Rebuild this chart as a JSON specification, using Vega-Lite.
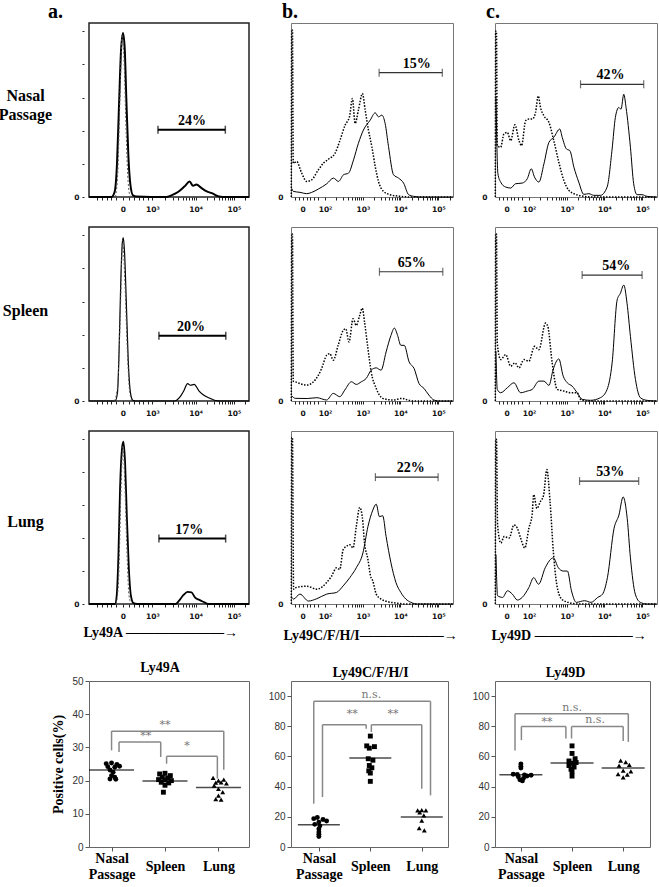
{
"$schema": "https://vega.github.io/schema/vega-lite/v6.json",
"autosize": {"type": "none"},
"padding": {"left": 89, "top": 23, "right": 570, "bottom": 864},
"background": "white",
"datasets": {
"a1s": [{"x":0,"y":0},{"x":14,"y":0},{"x":16,"y":3},{"x":17.5,"y":20},{"x":18.75,"y":55},{"x":20,"y":88},{"x":21.25,"y":99},{"x":22.3,"y":90},{"x":23.3,"y":60},{"x":24.6,"y":25},{"x":25.8,"y":8},{"x":27.5,"y":1},{"x":29.6,"y":0.3},{"x":48.3,"y":0},{"x":51.5,"y":1},{"x":55.6,"y":3},{"x":59.8,"y":6.5},{"x":62.9,"y":9.3},{"x":65,"y":6.8},{"x":67.1,"y":7.6},{"x":70.2,"y":5.5},{"x":73.3,"y":3.5},{"x":77.5,"y":2},{"x":80.6,"y":0.5},{"x":83.75,"y":0},{"x":100,"y":0}],
"a1d": [{"x":16.5,"y":0},{"x":18,"y":15},{"x":19.5,"y":65},{"x":20.8,"y":98},{"x":22,"y":80},{"x":23.2,"y":40},{"x":24.4,"y":10},{"x":25.6,"y":1},{"x":27,"y":0}],
"a2s": [{"x":0,"y":0},{"x":16.3,"y":0},{"x":17.8,"y":5},{"x":18.8,"y":30},{"x":19.8,"y":70},{"x":20.8,"y":95},{"x":21.4,"y":98.6},{"x":22.2,"y":90},{"x":23.3,"y":60},{"x":24.5,"y":25},{"x":25.9,"y":5},{"x":27.3,"y":0.5},{"x":29,"y":0},{"x":53.5,"y":0},{"x":56.5,"y":2},{"x":59.2,"y":6},{"x":61.6,"y":10.5},{"x":63.3,"y":9.5},{"x":65.7,"y":10},{"x":68.8,"y":6},{"x":71.8,"y":3.5},{"x":75.9,"y":1.5},{"x":79,"y":0.3},{"x":82,"y":0},{"x":100,"y":0}],
"a2d": [{"x":16,"y":0},{"x":18,"y":10},{"x":19.5,"y":50},{"x":21,"y":97},{"x":22.5,"y":70},{"x":24,"y":30},{"x":25.5,"y":5},{"x":27,"y":0}],
"a3s": [{"x":0,"y":0},{"x":16.2,"y":0},{"x":17.3,"y":5},{"x":18.4,"y":30},{"x":19.4,"y":70},{"x":20.7,"y":95},{"x":21.5,"y":98.6},{"x":22.6,"y":85},{"x":23.6,"y":55},{"x":24.9,"y":22},{"x":26.2,"y":5},{"x":27.8,"y":0.5},{"x":30,"y":0},{"x":54.2,"y":0},{"x":56.3,"y":2},{"x":59.1,"y":5.5},{"x":61.6,"y":7.3},{"x":64.1,"y":7},{"x":66.2,"y":4},{"x":69,"y":2.5},{"x":72.2,"y":1},{"x":74.3,"y":0},{"x":100,"y":0}],
"a3d": [{"x":17,"y":0},{"x":18.5,"y":15},{"x":20,"y":70},{"x":21.2,"y":96},{"x":22.5,"y":70},{"x":23.8,"y":30},{"x":25,"y":5},{"x":26.5,"y":0}],
"b1d": [{"x":0.2,"y":0},{"x":0.4,"y":101},{"x":0.9,"y":101},{"x":1.4,"y":20.4},{"x":3.5,"y":21.4},{"x":6.6,"y":14.4},{"x":9.7,"y":9.4},{"x":12.8,"y":10.4},{"x":16.9,"y":16.4},{"x":20,"y":20.4},{"x":23.1,"y":22.8},{"x":27.2,"y":26.4},{"x":30.3,"y":34.4},{"x":33.4,"y":43.4},{"x":36.1,"y":48.4},{"x":37.9,"y":59.4},{"x":39.6,"y":44.4},{"x":41.6,"y":52.4},{"x":44.1,"y":62.4},{"x":45.8,"y":52.4},{"x":47.8,"y":40.4},{"x":49.9,"y":30.4},{"x":52,"y":18.4},{"x":54,"y":9.4},{"x":57.1,"y":3.4},{"x":61.2,"y":1.4},{"x":67.4,"y":0.4},{"x":75,"y":0},{"x":100,"y":0}],
"b1s": [{"x":0.6,"y":5},{"x":1.4,"y":3.4},{"x":5.6,"y":2.8},{"x":9.7,"y":2},{"x":12.8,"y":2.8},{"x":16.9,"y":4.8},{"x":22.1,"y":8},{"x":26.2,"y":11.4},{"x":29.3,"y":9.4},{"x":32.4,"y":13.4},{"x":35.5,"y":14.4},{"x":38.6,"y":22.4},{"x":41.6,"y":32.4},{"x":44.7,"y":40.4},{"x":48.9,"y":46.4},{"x":52,"y":50.8},{"x":54,"y":48.4},{"x":56.1,"y":49.4},{"x":58.1,"y":44.4},{"x":60.2,"y":30.4},{"x":63.3,"y":13.4},{"x":66.4,"y":11.4},{"x":69.5,"y":8.4},{"x":72.6,"y":1.4},{"x":75.7,"y":0.4},{"x":80,"y":0},{"x":100,"y":0}],
"c1d": [{"x":0.2,"y":0},{"x":0.4,"y":100},{"x":0.9,"y":100},{"x":1.4,"y":31},{"x":3.5,"y":30},{"x":5.5,"y":38},{"x":7.6,"y":39},{"x":9.7,"y":34},{"x":12.3,"y":43.6},{"x":14.8,"y":34},{"x":16.4,"y":31},{"x":18.9,"y":46},{"x":20.9,"y":47},{"x":23,"y":47},{"x":25,"y":51},{"x":26.7,"y":61},{"x":28.1,"y":54},{"x":30.2,"y":49},{"x":33.3,"y":45},{"x":36.3,"y":34},{"x":39.4,"y":21},{"x":42.5,"y":10},{"x":45.6,"y":4},{"x":49.7,"y":1.6},{"x":54.8,"y":0.4},{"x":60,"y":0},{"x":100,"y":0}],
"c1s": [{"x":0.6,"y":60},{"x":1.8,"y":14},{"x":3.5,"y":9},{"x":6.6,"y":6},{"x":9.7,"y":5.4},{"x":12.7,"y":8},{"x":16.8,"y":8.4},{"x":19.9,"y":11},{"x":22.4,"y":17},{"x":24.4,"y":12},{"x":27.1,"y":9},{"x":30.2,"y":20},{"x":33.3,"y":33},{"x":36.3,"y":36},{"x":40,"y":41},{"x":41.5,"y":36},{"x":44.1,"y":29},{"x":46.2,"y":28},{"x":48.7,"y":18},{"x":51.7,"y":9},{"x":54.8,"y":1.6},{"x":57.9,"y":2},{"x":61,"y":1},{"x":65.1,"y":1},{"x":69.2,"y":6},{"x":72.3,"y":29},{"x":74.3,"y":48},{"x":76.4,"y":54},{"x":77.8,"y":53},{"x":79.5,"y":62},{"x":80.9,"y":54},{"x":83.6,"y":30},{"x":85.6,"y":8},{"x":87.7,"y":1.4},{"x":90.8,"y":1.4},{"x":93.8,"y":0.4},{"x":100,"y":0}],
"b2d": [{"x":0.2,"y":0},{"x":0.4,"y":101},{"x":0.9,"y":101},{"x":1.4,"y":12},{"x":2.6,"y":11.6},{"x":9.8,"y":9.6},{"x":16.9,"y":15.6},{"x":18.9,"y":19.6},{"x":22,"y":27.6},{"x":24,"y":28.6},{"x":26.1,"y":24.6},{"x":29.1,"y":33.6},{"x":32.2,"y":42.6},{"x":33.8,"y":43.6},{"x":35.8,"y":35.6},{"x":38.3,"y":49.6},{"x":40.3,"y":45.6},{"x":42.4,"y":51.6},{"x":44,"y":56},{"x":45.4,"y":47.6},{"x":47.5,"y":31.6},{"x":49.5,"y":17.6},{"x":52.6,"y":7.6},{"x":56.6,"y":1.6},{"x":62.7,"y":0.6},{"x":68.8,"y":1.6},{"x":71.9,"y":0.6},{"x":77,"y":0},{"x":100,"y":0}],
"b2s": [{"x":0.6,"y":3},{"x":2.6,"y":1.6},{"x":10,"y":1.5},{"x":16,"y":2},{"x":22,"y":0.6},{"x":26.1,"y":4.6},{"x":30.1,"y":2.6},{"x":33.2,"y":6.6},{"x":37.3,"y":11.6},{"x":40.3,"y":10},{"x":43.4,"y":11.6},{"x":46.4,"y":13.6},{"x":49.5,"y":18.6},{"x":52.6,"y":20},{"x":55.6,"y":18.6},{"x":58.7,"y":29.6},{"x":61.7,"y":39.6},{"x":63.8,"y":44},{"x":65.8,"y":39.6},{"x":67.8,"y":33.6},{"x":69.9,"y":33.6},{"x":72.9,"y":23.6},{"x":76,"y":19.6},{"x":79,"y":10.6},{"x":82.1,"y":7.6},{"x":85.1,"y":3.6},{"x":88.2,"y":0.6},{"x":91.2,"y":0},{"x":100,"y":0}],
"c2d": [{"x":0.2,"y":0},{"x":0.4,"y":101},{"x":0.9,"y":101},{"x":1.4,"y":35},{"x":3.5,"y":25},{"x":6.6,"y":28},{"x":9.7,"y":21},{"x":12.3,"y":23},{"x":14.8,"y":20},{"x":17.9,"y":25},{"x":20.9,"y":24},{"x":24.4,"y":33},{"x":27.1,"y":31},{"x":31.2,"y":47},{"x":32.6,"y":45},{"x":35.3,"y":23},{"x":38.4,"y":7},{"x":42.5,"y":6},{"x":46.6,"y":5},{"x":50.7,"y":5},{"x":52.8,"y":1},{"x":56.9,"y":0},{"x":100,"y":0}],
"c2s": [{"x":0.6,"y":30},{"x":1.4,"y":7},{"x":3.5,"y":5},{"x":7.6,"y":8},{"x":11.7,"y":11},{"x":15.8,"y":5},{"x":19.9,"y":6},{"x":23,"y":7},{"x":27.1,"y":12},{"x":30.2,"y":12},{"x":33.3,"y":9.4},{"x":35.9,"y":19},{"x":39.4,"y":25.4},{"x":42.1,"y":15},{"x":44.6,"y":11},{"x":47.6,"y":9},{"x":50.7,"y":5},{"x":53.8,"y":1},{"x":58.9,"y":0.4},{"x":65.1,"y":2},{"x":69.2,"y":7},{"x":72.3,"y":23},{"x":75.4,"y":61},{"x":77.4,"y":65},{"x":79.5,"y":70},{"x":81.5,"y":59},{"x":83.6,"y":39},{"x":86.7,"y":13},{"x":89.7,"y":2},{"x":93.8,"y":0.4},{"x":100,"y":0}],
"b3d": [{"x":0.2,"y":0},{"x":0.4,"y":101},{"x":0.9,"y":101},{"x":1.6,"y":9},{"x":2.4,"y":9.8},{"x":9.8,"y":10.8},{"x":15.9,"y":9},{"x":22,"y":13},{"x":25.1,"y":17},{"x":28.1,"y":22},{"x":30.1,"y":21},{"x":32.2,"y":33},{"x":34.2,"y":35},{"x":36.3,"y":36},{"x":38.3,"y":34},{"x":40.3,"y":47},{"x":42.4,"y":58.6},{"x":44,"y":53},{"x":45.4,"y":37},{"x":47.5,"y":27},{"x":49.1,"y":17},{"x":50.5,"y":14},{"x":52.6,"y":6},{"x":55.6,"y":3},{"x":59.7,"y":1.4},{"x":64.8,"y":0.6},{"x":70.9,"y":0},{"x":100,"y":0}],
"b3s": [{"x":0.6,"y":4},{"x":1.6,"y":3},{"x":5.5,"y":6},{"x":10.8,"y":1.8},{"x":15.9,"y":3.2},{"x":22,"y":6},{"x":28.1,"y":7},{"x":32.2,"y":11},{"x":36.3,"y":16},{"x":40.3,"y":22},{"x":44.4,"y":31},{"x":47.5,"y":47},{"x":50.5,"y":57},{"x":52.6,"y":60.6},{"x":54.6,"y":53},{"x":56.6,"y":53.6},{"x":58.7,"y":41},{"x":61.7,"y":25},{"x":64.8,"y":13},{"x":67.8,"y":7},{"x":70.9,"y":3},{"x":74,"y":1},{"x":78,"y":0},{"x":100,"y":0}],
"c3d": [{"x":0.2,"y":0},{"x":0.4,"y":100},{"x":0.9,"y":100},{"x":1.6,"y":48},{"x":3.6,"y":37},{"x":5.7,"y":41},{"x":8.7,"y":40},{"x":11.7,"y":48},{"x":13.8,"y":46},{"x":15.8,"y":40},{"x":18.4,"y":34},{"x":20.9,"y":46},{"x":22.9,"y":54},{"x":23.9,"y":66.4},{"x":25.9,"y":58},{"x":27.9,"y":62},{"x":30,"y":66},{"x":32,"y":81.6},{"x":34,"y":62},{"x":36,"y":32},{"x":38.1,"y":12},{"x":41.1,"y":3},{"x":45.1,"y":1},{"x":51.2,"y":0},{"x":100,"y":0}],
"c3s": [{"x":0.6,"y":30},{"x":1.6,"y":5},{"x":4.7,"y":4},{"x":7.7,"y":8},{"x":10.7,"y":6},{"x":13.8,"y":2.4},{"x":16.8,"y":4},{"x":20.9,"y":10},{"x":23.9,"y":16},{"x":26.9,"y":12},{"x":31,"y":22},{"x":36,"y":28},{"x":39.1,"y":22},{"x":42.1,"y":20},{"x":44.7,"y":20},{"x":47.2,"y":8},{"x":50.2,"y":1},{"x":55.3,"y":2},{"x":59.3,"y":1},{"x":63.4,"y":4},{"x":66.4,"y":6},{"x":69.4,"y":16},{"x":73.5,"y":46},{"x":76.5,"y":54},{"x":79.1,"y":65},{"x":81.6,"y":52},{"x":83.6,"y":28},{"x":86.6,"y":6},{"x":89.7,"y":1},{"x":93.7,"y":0},{"x":100,"y":0}],
"gates": [
{"p":"a1","x1":43.1,"x2":85.2,"y":40.6,"tx":64.4,"lab":"24%"},
{"p":"a2","x1":43.7,"x2":85.5,"y":39.4,"tx":63.7,"lab":"20%"},
{"p":"a3","x1":43.7,"x2":85.4,"y":39.7,"tx":62.7,"lab":"17%"},
{"p":"b1","x1":54.4,"x2":93.4,"y":75,"tx":77.7,"lab":"15%"},
{"p":"b2","x1":54.6,"x2":93.7,"y":78,"tx":74.5,"lab":"65%"},
{"p":"b3","x1":52.1,"x2":90.8,"y":77,"tx":73.9,"lab":"22%"},
{"p":"c1","x1":52.8,"x2":91.8,"y":68,"tx":71.3,"lab":"42%"},
{"p":"c2","x1":53.8,"x2":90.8,"y":76,"tx":74.9,"lab":"54%"},
{"p":"c3","x1":52.2,"x2":88.7,"y":74.6,"tx":71.1,"lab":"53%"}],
"dt": [
{"m":"A","g":1,"x":0.9,"v":25.1},{"m":"A","g":1,"x":1.0,"v":25.3},{"m":"A","g":1,"x":1.1,"v":24.9},{"m":"A","g":1,"x":0.93,"v":24.2},{"m":"A","g":1,"x":1.06,"v":24.0},{"m":"A","g":1,"x":1.15,"v":24.3},{"m":"A","g":1,"x":0.97,"v":23.2},{"m":"A","g":1,"x":1.03,"v":22.5},{"m":"A","g":1,"x":1.0,"v":21.5},{"m":"A","g":1,"x":1.06,"v":21.0},{"m":"A","g":1,"x":0.97,"v":20.5},{"m":"A","g":1,"x":1.08,"v":20.4},
{"m":"A","g":2,"x":1.9,"v":22.0},{"m":"A","g":2,"x":2.0,"v":22.2},{"m":"A","g":2,"x":2.1,"v":21.5},{"m":"A","g":2,"x":1.95,"v":21.0},{"m":"A","g":2,"x":2.05,"v":20.8},{"m":"A","g":2,"x":1.88,"v":20.3},{"m":"A","g":2,"x":2.0,"v":20.2},{"m":"A","g":2,"x":2.12,"v":20.0},{"m":"A","g":2,"x":1.93,"v":19.5},{"m":"A","g":2,"x":2.07,"v":19.3},{"m":"A","g":2,"x":2.0,"v":18.6},{"m":"A","g":2,"x":1.97,"v":16.5},
{"m":"A","g":3,"x":2.9,"v":20.8},{"m":"A","g":3,"x":3.0,"v":20.0},{"m":"A","g":3,"x":3.1,"v":20.3},{"m":"A","g":3,"x":2.95,"v":19.4},{"m":"A","g":3,"x":3.05,"v":19.5},{"m":"A","g":3,"x":3.15,"v":19.2},{"m":"A","g":3,"x":2.92,"v":18.5},{"m":"A","g":3,"x":3.0,"v":17.5},{"m":"A","g":3,"x":3.08,"v":16.5},{"m":"A","g":3,"x":3.0,"v":15.5},{"m":"A","g":3,"x":2.95,"v":14.4},{"m":"A","g":3,"x":3.05,"v":14.3},
{"m":"C","g":1,"x":0.97,"v":19.5},{"m":"C","g":1,"x":0.9,"v":18.8},{"m":"C","g":1,"x":1.08,"v":18.2},{"m":"C","g":1,"x":1.15,"v":17.2},{"m":"C","g":1,"x":1.0,"v":16.5},{"m":"C","g":1,"x":0.92,"v":15.0},{"m":"C","g":1,"x":1.02,"v":14.0},{"m":"C","g":1,"x":1.0,"v":12.0},{"m":"C","g":1,"x":1.0,"v":10.0},{"m":"C","g":1,"x":1.0,"v":8.5},{"m":"C","g":1,"x":1.0,"v":7.0},
{"m":"C","g":2,"x":2.0,"v":73.5},{"m":"C","g":2,"x":1.93,"v":67},{"m":"C","g":2,"x":2.08,"v":66.5},{"m":"C","g":2,"x":1.98,"v":65.5},{"m":"C","g":2,"x":1.96,"v":58.5},{"m":"C","g":2,"x":2.05,"v":57.5},{"m":"C","g":2,"x":1.98,"v":54},{"m":"C","g":2,"x":2.03,"v":52.5},{"m":"C","g":2,"x":1.97,"v":50.5},{"m":"C","g":2,"x":2.0,"v":49},{"m":"C","g":2,"x":2.0,"v":43.5},
{"m":"C","g":3,"x":2.92,"v":24.3},{"m":"C","g":3,"x":3.0,"v":24.5},{"m":"C","g":3,"x":3.08,"v":24.3},{"m":"C","g":3,"x":2.96,"v":23},{"m":"C","g":3,"x":3.04,"v":21},{"m":"C","g":3,"x":3.0,"v":17.5},{"m":"C","g":3,"x":2.95,"v":12.5},{"m":"C","g":3,"x":3.05,"v":11},
{"m":"D","g":1,"x":1.0,"v":55},{"m":"D","g":1,"x":1.0,"v":53.5},{"m":"D","g":1,"x":1.0,"v":52.3},{"m":"D","g":1,"x":0.85,"v":48.2},{"m":"D","g":1,"x":0.93,"v":48},{"m":"D","g":1,"x":1.07,"v":47.8},{"m":"D","g":1,"x":1.2,"v":47.5},{"m":"D","g":1,"x":1.12,"v":47},{"m":"D","g":1,"x":0.95,"v":46.5},{"m":"D","g":1,"x":1.05,"v":45.5},{"m":"D","g":1,"x":0.98,"v":44.5},{"m":"D","g":1,"x":1.03,"v":43.8},
{"m":"D","g":2,"x":2.0,"v":67},{"m":"D","g":2,"x":2.0,"v":62},{"m":"D","g":2,"x":2.06,"v":58.5},{"m":"D","g":2,"x":1.94,"v":57},{"m":"D","g":2,"x":2.08,"v":56},{"m":"D","g":2,"x":2.0,"v":55.5},{"m":"D","g":2,"x":1.94,"v":54},{"m":"D","g":2,"x":2.04,"v":53},{"m":"D","g":2,"x":1.98,"v":51.5},{"m":"D","g":2,"x":2.0,"v":50},{"m":"D","g":2,"x":2.0,"v":47},
{"m":"D","g":3,"x":2.95,"v":57.3},{"m":"D","g":3,"x":3.05,"v":56.2},{"m":"D","g":3,"x":3.12,"v":54.4},{"m":"D","g":3,"x":2.92,"v":53.9},{"m":"D","g":3,"x":3.0,"v":50.6},{"m":"D","g":3,"x":3.15,"v":50.1},{"m":"D","g":3,"x":2.9,"v":48.3},{"m":"D","g":3,"x":3.08,"v":47.9},{"m":"D","g":3,"x":3.0,"v":46.1}],
"mn": [{"m":"A","g":1,"v":23.2},{"m":"A","g":2,"v":19.9},{"m":"A","g":3,"v":17.9},{"m":"C","g":1,"v":14.8},{"m":"C","g":2,"v":58.9},{"m":"C","g":3,"v":19.9},{"m":"D","g":1,"v":47.9},{"m":"D","g":2,"v":55.7},{"m":"D","g":3,"v":52.4}],
"br": [
{"m":"A","x1":1.0,"x2":3.1,"top":34.9,"yl":29.1,"yr":23.3,"lab":"**","lx":2.0,"ly":36.8},
{"m":"A","x1":1.14,"x2":1.92,"top":31.6,"yl":28.6,"yr":27.1,"lab":"**","lx":1.64,"ly":33.3},
{"m":"A","x1":2.03,"x2":2.98,"top":27.3,"yl":25.1,"yr":20.6,"lab":"*","lx":2.41,"ly":30.3},
{"m":"C","x1":0.9,"x2":3.17,"top":96.5,"yl":28.7,"yr":34.2,"lab":"n.s.","lx":2.02,"ly":100.6},
{"m":"C","x1":1.07,"x2":1.92,"top":81,"yl":33.1,"yr":78.4,"lab":"**","lx":1.65,"ly":88.3},
{"m":"C","x1":2.02,"x2":3.0,"top":81,"yl":76.2,"yr":38.6,"lab":"**","lx":2.44,"ly":88.3},
{"m":"D","x1":0.885,"x2":3.1,"top":88.3,"yl":64,"yr":69.7,"lab":"n.s.","lx":2.0,"ly":92.4},
{"m":"D","x1":1.01,"x2":1.88,"top":79.8,"yl":70.8,"yr":71.9,"lab":"**","lx":1.51,"ly":83.1},
{"m":"D","x1":1.99,"x2":3.0,"top":79.8,"yl":71.9,"yr":70.3,"lab":"n.s.","lx":2.45,"ly":84}]
},
"config": {
"view": {"stroke": "#666", "strokeWidth": 1},
"axis": {"grid": false, "domain": false, "labelFlush": false, "labelOverlap": false, "tickCount": 100, "tickColor": "#222", "labelColor": "#111", "labelFont": "DejaVu Sans", "labelFontWeight": "bold", "labelFontSize": 7.5, "tickSize": 3, "labelPadding": 5, "titleFont": "Liberation Serif", "titleFontWeight": "bold", "titleFontSize": 14, "titleColor": "black"},
"title": {"font": "Liberation Serif", "fontWeight": "bold", "fontSize": 14, "color": "black", "baseline": "alphabetic"},
"line": {"interpolate": "monotone"}
},
"columns": 3,
"spacing": {"row": 30, "column": 42},
"bounds": "flush",
"concat": [
{"width": 160, "height": 174, "view": {"stroke": "#222", "strokeWidth": 1.5},
 "title": {"text": "a.", "anchor": "start", "frame": "group", "dx": -41, "fontSize": 20, "offset": 1},
 "layer": [
  {"data": {"name": "a1s"}, "mark": {"type": "line", "color": "black", "strokeWidth": 2},
   "encoding": {"x": {"field": "x", "type": "quantitative", "scale": {"domain": [0, 100], "nice": false, "zero": false},
     "axis": {"values": [5,8,11,14,17,21.2,25,28,31,34,37,39.6,47.8,52.5,55.9,58.5,60.7,62.5,64.1,65.5,66.7,73.9,78.1,81.1,83.4,85.3,86.9,88.3,89.5,90.6,97.8], "tickCount": 100, "labelExpr": "datum.value==21.2?'0':datum.value==39.6?'10³':datum.value==66.7?'10⁴':datum.value==90.6?'10⁵':''", "labelOverlap": false, "title": null}},
    "y": {"field": "y", "type": "quantitative", "scale": {"domain": [0, 105], "nice": false},
     "axis": {"values": [0,20,40,60,80,100], "tickCount": 100, "labelExpr": "datum.value==0?'0':''", "labelOverlap": false, "offset": 5, "tickSize": 2, "labelPadding": 3, "title": ["Nasal", "Passage"], "titleAngle": 0, "titleX": -59, "titleY": 72, "titleAlign": "center", "titleBaseline": "middle", "titleFontSize": 16, "titleLineHeight": 19}}}},
  {"data": {"name": "a1d"}, "mark": {"type": "line", "color": "#555", "strokeWidth": 1, "strokeDash": [2, 2]},
   "encoding": {"x": {"field": "x", "type": "quantitative"}, "y": {"field": "y", "type": "quantitative"}}},
  {"data": {"name": "gates"}, "transform": [{"filter": "datum.p=='a1'"}], "mark": {"type": "rule", "color": "black", "strokeWidth": 2},
   "encoding": {"x": {"field": "x1", "type": "quantitative"}, "x2": {"field": "x2"}, "y": {"field": "y", "type": "quantitative"}}},
  {"data": {"name": "gates"}, "transform": [{"filter": "datum.p=='a1'"}, {"fold": ["x1", "x2"], "as": ["k", "xe"]}], "mark": {"type": "tick", "orient": "vertical", "color": "black", "size": 8, "thickness": 1.5},
   "encoding": {"x": {"field": "xe", "type": "quantitative"}, "y": {"field": "y", "type": "quantitative"}}},
  {"data": {"name": "gates"}, "transform": [{"filter": "datum.p=='a1'"}], "mark": {"type": "text", "font": "Liberation Serif", "fontWeight": "bold", "fontSize": 14, "baseline": "alphabetic", "dy": -5},
   "encoding": {"x": {"field": "tx", "type": "quantitative"}, "y": {"field": "y", "type": "quantitative"}, "text": {"field": "lab"}}}
 ]},
{"width": 162, "height": 174, "view": {"stroke": "#777"},
 "title": {"text": "b.", "anchor": "start", "frame": "group", "dx": -9, "fontSize": 20, "offset": 1},
 "layer": [
  {"data": {"name": "b1s"}, "mark": {"type": "line", "color": "black", "strokeWidth": 1},
   "encoding": {"x": {"field": "x", "type": "quantitative", "scale": {"domain": [0, 100], "nice": false, "zero": false},
     "axis": {"values": [2.5,4.8,7.2,9.6,12,14.4,16.8,21,28,32.2,35.1,37.4,39.2,40.8,42.1,43.3,44.4,51.4,55.4,58.3,60.5,62.4,63.9,65.3,66.4,67.5,74.6,78.7,81.6,83.9,85.8,87.3,88.7,89.9,91,98.1], "tickCount": 100, "labelExpr": "datum.value==7.2?'0':datum.value==21?'10²':datum.value==44.4?'10³':datum.value==67.5?'10⁴':datum.value==91?'10⁵':''", "labelOverlap": false, "title": null}},
    "y": {"field": "y", "type": "quantitative", "scale": {"domain": [0, 105], "nice": false},
     "axis": {"values": [0], "labelExpr": "'0'", "ticks": false, "labelPadding": 8, "title": null}}}},
  {"data": {"name": "b1d"}, "mark": {"type": "line", "color": "black", "strokeWidth": 1.5, "strokeDash": [1.5, 1.5]},
   "encoding": {"x": {"field": "x", "type": "quantitative"}, "y": {"field": "y", "type": "quantitative"}}},
  {"data": {"name": "gates"}, "transform": [{"filter": "datum.p=='b1'"}], "mark": {"type": "rule", "color": "#333", "strokeWidth": 1.2},
   "encoding": {"x": {"field": "x1", "type": "quantitative"}, "x2": {"field": "x2"}, "y": {"field": "y", "type": "quantitative"}}},
  {"data": {"name": "gates"}, "transform": [{"filter": "datum.p=='b1'"}, {"fold": ["x1", "x2"], "as": ["k", "xe"]}], "mark": {"type": "tick", "orient": "vertical", "color": "#333", "size": 8, "thickness": 1.2},
   "encoding": {"x": {"field": "xe", "type": "quantitative"}, "y": {"field": "y", "type": "quantitative"}}},
  {"data": {"name": "gates"}, "transform": [{"filter": "datum.p=='b1'"}], "mark": {"type": "text", "font": "Liberation Serif", "fontWeight": "bold", "fontSize": 14, "baseline": "alphabetic", "dy": -5},
   "encoding": {"x": {"field": "tx", "type": "quantitative"}, "y": {"field": "y", "type": "quantitative"}, "text": {"field": "lab"}}}
 ]},
{"width": 162, "height": 174, "view": {"stroke": "#777"},
 "title": {"text": "c.", "anchor": "start", "frame": "group", "dx": -9, "fontSize": 20, "offset": 1},
 "layer": [
  {"data": {"name": "c1s"}, "mark": {"type": "line", "color": "black", "strokeWidth": 1},
   "encoding": {"x": {"field": "x", "type": "quantitative", "scale": {"domain": [0, 100], "nice": false, "zero": false},
     "axis": {"values": [2.5,4.8,7.2,9.6,12,14.4,16.8,21,28,32.2,35.1,37.4,39.2,40.8,42.1,43.3,44.4,51.4,55.4,58.3,60.5,62.4,63.9,65.3,66.4,67.5,74.6,78.7,81.6,83.9,85.8,87.3,88.7,89.9,91,98.1], "tickCount": 100, "labelExpr": "datum.value==7.2?'0':datum.value==21?'10²':datum.value==44.4?'10³':datum.value==67.5?'10⁴':datum.value==91?'10⁵':''", "labelOverlap": false, "title": null}},
    "y": {"field": "y", "type": "quantitative", "scale": {"domain": [0, 105], "nice": false},
     "axis": {"values": [0], "labelExpr": "'0'", "ticks": false, "labelPadding": 8, "title": null}}}},
  {"data": {"name": "c1d"}, "mark": {"type": "line", "color": "black", "strokeWidth": 1.5, "strokeDash": [1.5, 1.5]},
   "encoding": {"x": {"field": "x", "type": "quantitative"}, "y": {"field": "y", "type": "quantitative"}}},
  {"data": {"name": "gates"}, "transform": [{"filter": "datum.p=='c1'"}], "mark": {"type": "rule", "color": "#333", "strokeWidth": 1.2},
   "encoding": {"x": {"field": "x1", "type": "quantitative"}, "x2": {"field": "x2"}, "y": {"field": "y", "type": "quantitative"}}},
  {"data": {"name": "gates"}, "transform": [{"filter": "datum.p=='c1'"}, {"fold": ["x1", "x2"], "as": ["k", "xe"]}], "mark": {"type": "tick", "orient": "vertical", "color": "#333", "size": 8, "thickness": 1.2},
   "encoding": {"x": {"field": "xe", "type": "quantitative"}, "y": {"field": "y", "type": "quantitative"}}},
  {"data": {"name": "gates"}, "transform": [{"filter": "datum.p=='c1'"}], "mark": {"type": "text", "font": "Liberation Serif", "fontWeight": "bold", "fontSize": 14, "baseline": "alphabetic", "dy": -5},
   "encoding": {"x": {"field": "tx", "type": "quantitative"}, "y": {"field": "y", "type": "quantitative"}, "text": {"field": "lab"}}}
 ]},
{"width": 160, "height": 174, "view": {"stroke": "#222", "strokeWidth": 1.5},
 "layer": [
  {"data": {"name": "a2s"}, "mark": {"type": "line", "color": "black", "strokeWidth": 1.2},
   "encoding": {"x": {"field": "x", "type": "quantitative", "scale": {"domain": [0, 100], "nice": false, "zero": false},
     "axis": {"values": [5,8,11,14,17,21.2,25,28,31,34,37,39.6,47.8,52.5,55.9,58.5,60.7,62.5,64.1,65.5,66.7,73.9,78.1,81.1,83.4,85.3,86.9,88.3,89.5,90.6,97.8], "tickCount": 100, "labelExpr": "datum.value==21.2?'0':datum.value==39.6?'10³':datum.value==66.7?'10⁴':datum.value==90.6?'10⁵':''", "labelOverlap": false, "title": null}},
    "y": {"field": "y", "type": "quantitative", "scale": {"domain": [0, 105], "nice": false},
     "axis": {"values": [0,20,40,60,80,100], "tickCount": 100, "labelExpr": "datum.value==0?'0':''", "labelOverlap": false, "offset": 5, "tickSize": 2, "labelPadding": 3, "title": "Spleen", "titleAngle": 0, "titleX": -59, "titleY": 83, "titleAlign": "center", "titleBaseline": "middle", "titleFontSize": 16}}}},
  {"data": {"name": "a2d"}, "mark": {"type": "line", "color": "#555", "strokeWidth": 1, "strokeDash": [2, 2]},
   "encoding": {"x": {"field": "x", "type": "quantitative"}, "y": {"field": "y", "type": "quantitative"}}},
  {"data": {"name": "gates"}, "transform": [{"filter": "datum.p=='a2'"}], "mark": {"type": "rule", "color": "black", "strokeWidth": 2},
   "encoding": {"x": {"field": "x1", "type": "quantitative"}, "x2": {"field": "x2"}, "y": {"field": "y", "type": "quantitative"}}},
  {"data": {"name": "gates"}, "transform": [{"filter": "datum.p=='a2'"}, {"fold": ["x1", "x2"], "as": ["k", "xe"]}], "mark": {"type": "tick", "orient": "vertical", "color": "black", "size": 8, "thickness": 1.5},
   "encoding": {"x": {"field": "xe", "type": "quantitative"}, "y": {"field": "y", "type": "quantitative"}}},
  {"data": {"name": "gates"}, "transform": [{"filter": "datum.p=='a2'"}], "mark": {"type": "text", "font": "Liberation Serif", "fontWeight": "bold", "fontSize": 14, "baseline": "alphabetic", "dy": -5},
   "encoding": {"x": {"field": "tx", "type": "quantitative"}, "y": {"field": "y", "type": "quantitative"}, "text": {"field": "lab"}}}
 ]},
{"width": 162, "height": 174, "view": {"stroke": "#777"},
 "layer": [
  {"data": {"name": "b2s"}, "mark": {"type": "line", "color": "black", "strokeWidth": 1},
   "encoding": {"x": {"field": "x", "type": "quantitative", "scale": {"domain": [0, 100], "nice": false, "zero": false},
     "axis": {"values": [2.5,4.8,7.2,9.6,12,14.4,16.8,21,28,32.2,35.1,37.4,39.2,40.8,42.1,43.3,44.4,51.4,55.4,58.3,60.5,62.4,63.9,65.3,66.4,67.5,74.6,78.7,81.6,83.9,85.8,87.3,88.7,89.9,91,98.1], "tickCount": 100, "labelExpr": "datum.value==7.2?'0':datum.value==21?'10²':datum.value==44.4?'10³':datum.value==67.5?'10⁴':datum.value==91?'10⁵':''", "labelOverlap": false, "title": null}},
    "y": {"field": "y", "type": "quantitative", "scale": {"domain": [0, 105], "nice": false},
     "axis": {"values": [0], "labelExpr": "'0'", "ticks": false, "labelPadding": 8, "title": null}}}},
  {"data": {"name": "b2d"}, "mark": {"type": "line", "color": "black", "strokeWidth": 1.5, "strokeDash": [1.5, 1.5]},
   "encoding": {"x": {"field": "x", "type": "quantitative"}, "y": {"field": "y", "type": "quantitative"}}},
  {"data": {"name": "gates"}, "transform": [{"filter": "datum.p=='b2'"}], "mark": {"type": "rule", "color": "#333", "strokeWidth": 1.2},
   "encoding": {"x": {"field": "x1", "type": "quantitative"}, "x2": {"field": "x2"}, "y": {"field": "y", "type": "quantitative"}}},
  {"data": {"name": "gates"}, "transform": [{"filter": "datum.p=='b2'"}, {"fold": ["x1", "x2"], "as": ["k", "xe"]}], "mark": {"type": "tick", "orient": "vertical", "color": "#333", "size": 8, "thickness": 1.2},
   "encoding": {"x": {"field": "xe", "type": "quantitative"}, "y": {"field": "y", "type": "quantitative"}}},
  {"data": {"name": "gates"}, "transform": [{"filter": "datum.p=='b2'"}], "mark": {"type": "text", "font": "Liberation Serif", "fontWeight": "bold", "fontSize": 14, "baseline": "alphabetic", "dy": -5},
   "encoding": {"x": {"field": "tx", "type": "quantitative"}, "y": {"field": "y", "type": "quantitative"}, "text": {"field": "lab"}}}
 ]},
{"width": 162, "height": 174, "view": {"stroke": "#777"},
 "layer": [
  {"data": {"name": "c2s"}, "mark": {"type": "line", "color": "black", "strokeWidth": 1},
   "encoding": {"x": {"field": "x", "type": "quantitative", "scale": {"domain": [0, 100], "nice": false, "zero": false},
     "axis": {"values": [2.5,4.8,7.2,9.6,12,14.4,16.8,21,28,32.2,35.1,37.4,39.2,40.8,42.1,43.3,44.4,51.4,55.4,58.3,60.5,62.4,63.9,65.3,66.4,67.5,74.6,78.7,81.6,83.9,85.8,87.3,88.7,89.9,91,98.1], "tickCount": 100, "labelExpr": "datum.value==7.2?'0':datum.value==21?'10²':datum.value==44.4?'10³':datum.value==67.5?'10⁴':datum.value==91?'10⁵':''", "labelOverlap": false, "title": null}},
    "y": {"field": "y", "type": "quantitative", "scale": {"domain": [0, 105], "nice": false},
     "axis": {"values": [0], "labelExpr": "'0'", "ticks": false, "labelPadding": 8, "title": null}}}},
  {"data": {"name": "c2d"}, "mark": {"type": "line", "color": "black", "strokeWidth": 1.5, "strokeDash": [1.5, 1.5]},
   "encoding": {"x": {"field": "x", "type": "quantitative"}, "y": {"field": "y", "type": "quantitative"}}},
  {"data": {"name": "gates"}, "transform": [{"filter": "datum.p=='c2'"}], "mark": {"type": "rule", "color": "#333", "strokeWidth": 1.2},
   "encoding": {"x": {"field": "x1", "type": "quantitative"}, "x2": {"field": "x2"}, "y": {"field": "y", "type": "quantitative"}}},
  {"data": {"name": "gates"}, "transform": [{"filter": "datum.p=='c2'"}, {"fold": ["x1", "x2"], "as": ["k", "xe"]}], "mark": {"type": "tick", "orient": "vertical", "color": "#333", "size": 8, "thickness": 1.2},
   "encoding": {"x": {"field": "xe", "type": "quantitative"}, "y": {"field": "y", "type": "quantitative"}}},
  {"data": {"name": "gates"}, "transform": [{"filter": "datum.p=='c2'"}], "mark": {"type": "text", "font": "Liberation Serif", "fontWeight": "bold", "fontSize": 14, "baseline": "alphabetic", "dy": -5},
   "encoding": {"x": {"field": "tx", "type": "quantitative"}, "y": {"field": "y", "type": "quantitative"}, "text": {"field": "lab"}}}
 ]},
{"width": 160, "height": 173, "view": {"stroke": "#222", "strokeWidth": 1.5},
 "layer": [
  {"data": {"name": "a3s"}, "mark": {"type": "line", "color": "black", "strokeWidth": 1.8},
   "encoding": {"x": {"field": "x", "type": "quantitative", "scale": {"domain": [0, 100], "nice": false, "zero": false},
     "axis": {"values": [5,8,11,14,17,21.2,25,28,31,34,37,39.6,47.8,52.5,55.9,58.5,60.7,62.5,64.1,65.5,66.7,73.9,78.1,81.1,83.4,85.3,86.9,88.3,89.5,90.6,97.8], "tickCount": 100, "labelExpr": "datum.value==21.2?'0':datum.value==39.6?'10³':datum.value==66.7?'10⁴':datum.value==90.6?'10⁵':''", "labelOverlap": false, "title": "Ly49A ———————→", "titleAlign": "left", "titleX": -6, "titleY": 28, "titleBaseline": "middle"}},
    "y": {"field": "y", "type": "quantitative", "scale": {"domain": [0, 105], "nice": false},
     "axis": {"values": [0,20,40,60,80,100], "tickCount": 100, "labelExpr": "datum.value==0?'0':''", "labelOverlap": false, "offset": 5, "tickSize": 2, "labelPadding": 3, "title": "Lung", "titleAngle": 0, "titleX": -59, "titleY": 90, "titleAlign": "center", "titleBaseline": "middle", "titleFontSize": 16}}}},
  {"data": {"name": "a3d"}, "mark": {"type": "line", "color": "#555", "strokeWidth": 1, "strokeDash": [2, 2]},
   "encoding": {"x": {"field": "x", "type": "quantitative"}, "y": {"field": "y", "type": "quantitative"}}},
  {"data": {"name": "gates"}, "transform": [{"filter": "datum.p=='a3'"}], "mark": {"type": "rule", "color": "black", "strokeWidth": 2},
   "encoding": {"x": {"field": "x1", "type": "quantitative"}, "x2": {"field": "x2"}, "y": {"field": "y", "type": "quantitative"}}},
  {"data": {"name": "gates"}, "transform": [{"filter": "datum.p=='a3'"}, {"fold": ["x1", "x2"], "as": ["k", "xe"]}], "mark": {"type": "tick", "orient": "vertical", "color": "black", "size": 8, "thickness": 1.5},
   "encoding": {"x": {"field": "xe", "type": "quantitative"}, "y": {"field": "y", "type": "quantitative"}}},
  {"data": {"name": "gates"}, "transform": [{"filter": "datum.p=='a3'"}], "mark": {"type": "text", "font": "Liberation Serif", "fontWeight": "bold", "fontSize": 14, "baseline": "alphabetic", "dy": -5},
   "encoding": {"x": {"field": "tx", "type": "quantitative"}, "y": {"field": "y", "type": "quantitative"}, "text": {"field": "lab"}}}
 ]},
{"width": 162, "height": 173, "view": {"stroke": "#777"},
 "layer": [
  {"data": {"name": "b3s"}, "mark": {"type": "line", "color": "black", "strokeWidth": 1},
   "encoding": {"x": {"field": "x", "type": "quantitative", "scale": {"domain": [0, 100], "nice": false, "zero": false},
     "axis": {"values": [2.5,4.8,7.2,9.6,12,14.4,16.8,21,28,32.2,35.1,37.4,39.2,40.8,42.1,43.3,44.4,51.4,55.4,58.3,60.5,62.4,63.9,65.3,66.4,67.5,74.6,78.7,81.6,83.9,85.8,87.3,88.7,89.9,91,98.1], "tickCount": 100, "labelExpr": "datum.value==7.2?'0':datum.value==21?'10²':datum.value==44.4?'10³':datum.value==67.5?'10⁴':datum.value==91?'10⁵':''", "labelOverlap": false, "title": "Ly49C/F/H/I——————→", "titleAlign": "left", "titleX": -8, "titleY": 31, "titleBaseline": "middle"}},
    "y": {"field": "y", "type": "quantitative", "scale": {"domain": [0, 105], "nice": false},
     "axis": {"values": [0], "labelExpr": "'0'", "ticks": false, "labelPadding": 8, "title": null}}}},
  {"data": {"name": "b3d"}, "mark": {"type": "line", "color": "black", "strokeWidth": 1.5, "strokeDash": [1.5, 1.5]},
   "encoding": {"x": {"field": "x", "type": "quantitative"}, "y": {"field": "y", "type": "quantitative"}}},
  {"data": {"name": "gates"}, "transform": [{"filter": "datum.p=='b3'"}], "mark": {"type": "rule", "color": "#333", "strokeWidth": 1.2},
   "encoding": {"x": {"field": "x1", "type": "quantitative"}, "x2": {"field": "x2"}, "y": {"field": "y", "type": "quantitative"}}},
  {"data": {"name": "gates"}, "transform": [{"filter": "datum.p=='b3'"}, {"fold": ["x1", "x2"], "as": ["k", "xe"]}], "mark": {"type": "tick", "orient": "vertical", "color": "#333", "size": 8, "thickness": 1.2},
   "encoding": {"x": {"field": "xe", "type": "quantitative"}, "y": {"field": "y", "type": "quantitative"}}},
  {"data": {"name": "gates"}, "transform": [{"filter": "datum.p=='b3'"}], "mark": {"type": "text", "font": "Liberation Serif", "fontWeight": "bold", "fontSize": 14, "baseline": "alphabetic", "dy": -5},
   "encoding": {"x": {"field": "tx", "type": "quantitative"}, "y": {"field": "y", "type": "quantitative"}, "text": {"field": "lab"}}}
 ]},
{"width": 162, "height": 173, "view": {"stroke": "#777"},
 "layer": [
  {"data": {"name": "c3s"}, "mark": {"type": "line", "color": "black", "strokeWidth": 1},
   "encoding": {"x": {"field": "x", "type": "quantitative", "scale": {"domain": [0, 100], "nice": false, "zero": false},
     "axis": {"values": [2.5,4.8,7.2,9.6,12,14.4,16.8,21,28,32.2,35.1,37.4,39.2,40.8,42.1,43.3,44.4,51.4,55.4,58.3,60.5,62.4,63.9,65.3,66.4,67.5,74.6,78.7,81.6,83.9,85.8,87.3,88.7,89.9,91,98.1], "tickCount": 100, "labelExpr": "datum.value==7.2?'0':datum.value==21?'10²':datum.value==44.4?'10³':datum.value==67.5?'10⁴':datum.value==91?'10⁵':''", "labelOverlap": false, "title": "Ly49D ———————→", "titleAlign": "left", "titleX": -4, "titleY": 31, "titleBaseline": "middle"}},
    "y": {"field": "y", "type": "quantitative", "scale": {"domain": [0, 105], "nice": false},
     "axis": {"values": [0], "labelExpr": "'0'", "ticks": false, "labelPadding": 8, "title": null}}}},
  {"data": {"name": "c3d"}, "mark": {"type": "line", "color": "black", "strokeWidth": 1.5, "strokeDash": [1.5, 1.5]},
   "encoding": {"x": {"field": "x", "type": "quantitative"}, "y": {"field": "y", "type": "quantitative"}}},
  {"data": {"name": "gates"}, "transform": [{"filter": "datum.p=='c3'"}], "mark": {"type": "rule", "color": "#333", "strokeWidth": 1.2},
   "encoding": {"x": {"field": "x1", "type": "quantitative"}, "x2": {"field": "x2"}, "y": {"field": "y", "type": "quantitative"}}},
  {"data": {"name": "gates"}, "transform": [{"filter": "datum.p=='c3'"}, {"fold": ["x1", "x2"], "as": ["k", "xe"]}], "mark": {"type": "tick", "orient": "vertical", "color": "#333", "size": 8, "thickness": 1.2},
   "encoding": {"x": {"field": "xe", "type": "quantitative"}, "y": {"field": "y", "type": "quantitative"}}},
  {"data": {"name": "gates"}, "transform": [{"filter": "datum.p=='c3'"}], "mark": {"type": "text", "font": "Liberation Serif", "fontWeight": "bold", "fontSize": 14, "baseline": "alphabetic", "dy": -5},
   "encoding": {"x": {"field": "tx", "type": "quantitative"}, "y": {"field": "y", "type": "quantitative"}, "text": {"field": "lab"}}}
 ]},
{"width": 10, "height": 17, "view": {"stroke": null}, "data": {"values": [{}]}, "mark": {"type": "point", "opacity": 0}, "encoding": {}},
{"width": 10, "height": 17, "view": {"stroke": null}, "data": {"values": [{}]}, "mark": {"type": "point", "opacity": 0}, "encoding": {}},
{"width": 10, "height": 17, "view": {"stroke": null}, "data": {"values": [{}]}, "mark": {"type": "point", "opacity": 0}, "encoding": {}},
{"width": 160, "height": 166, "view": {"stroke": "#666"},
 "title": {"text": "Ly49A", "dx": -9, "offset": 1},
 "layer": [
  {"data": {"name": "dt"}, "transform": [{"filter": "datum.m=='A'"}], "mark": {"type": "point", "filled": true, "color": "black", "size": 24, "opacity": 1},
   "encoding": {"x": {"field": "x", "type": "quantitative", "scale": {"domain": [0.578, 3.572], "nice": false, "zero": false},
     "axis": {"values": [1,2,3], "tickCount": 100, "labelExpr": "datum.value==1?['Nasal','Passage']:datum.value==2?'Spleen':'Lung'", "labelOverlap": false, "title": null, "tickSize": 4, "tickColor": "#555", "labelFont": "Liberation Serif", "labelFontWeight": "bold", "labelFontSize": 14, "labelColor": "black", "labelBaseline": "middle", "labelPadding": {"condition": {"test": "datum.value==1", "value": 7}, "value": 15}, "labelLineHeight": 16}},
    "y": {"field": "v", "type": "quantitative", "scale": {"domain": [0, 50], "nice": false},
     "axis": {"values": [0,10,20,30,40,50], "tickCount": 100, "format": "d", "labelOverlap": false, "title": "Positive cells(%)", "tickSize": 4, "tickColor": "#555", "labelFont": "Liberation Sans", "labelFontWeight": "normal", "labelFontSize": 10, "labelColor": "#333", "labelPadding": 2, "titlePadding": 6}},
    "shape": {"field": "g", "type": "nominal", "scale": {"domain": [1, 2, 3], "range": ["circle", "square", "triangle-up"]}, "legend": null}}},
  {"data": {"name": "mn"}, "transform": [{"filter": "datum.m=='A'"}], "mark": {"type": "tick", "orient": "horizontal", "color": "black", "size": 45, "thickness": 1.5},
   "encoding": {"x": {"field": "g", "type": "quantitative"}, "y": {"field": "v", "type": "quantitative"}}},
  {"data": {"name": "br"}, "transform": [{"filter": "datum.m=='A'"}], "mark": {"type": "rule", "color": "#888", "strokeWidth": 1.5},
   "encoding": {"x": {"field": "x1", "type": "quantitative"}, "x2": {"field": "x2"}, "y": {"field": "top", "type": "quantitative"}}},
  {"data": {"name": "br"}, "transform": [{"filter": "datum.m=='A'"}], "mark": {"type": "rule", "color": "#888", "strokeWidth": 1.5},
   "encoding": {"x": {"field": "x1", "type": "quantitative"}, "y": {"field": "yl", "type": "quantitative"}, "y2": {"field": "top"}}},
  {"data": {"name": "br"}, "transform": [{"filter": "datum.m=='A'"}], "mark": {"type": "rule", "color": "#888", "strokeWidth": 1.5},
   "encoding": {"x": {"field": "x2", "type": "quantitative"}, "y": {"field": "yr", "type": "quantitative"}, "y2": {"field": "top"}}},
  {"data": {"name": "br"}, "transform": [{"filter": "datum.m=='A'"}], "mark": {"type": "text", "fill": "#777", "font": "DejaVu Serif", "fontSize": 11, "baseline": "middle"},
   "encoding": {"x": {"field": "lx", "type": "quantitative"}, "y": {"field": "ly", "type": "quantitative"}, "text": {"field": "lab"}}}
 ]},
{"width": 157, "height": 166, "view": {"stroke": "#666"},
 "title": {"text": "Ly49C/F/H/I", "dx": 1, "offset": 1},
 "layer": [
  {"data": {"name": "dt"}, "transform": [{"filter": "datum.m=='C'"}], "mark": {"type": "point", "filled": true, "color": "black", "size": 24, "opacity": 1},
   "encoding": {"x": {"field": "x", "type": "quantitative", "scale": {"domain": [0.458, 3.51], "nice": false, "zero": false},
     "axis": {"values": [1,2,3], "tickCount": 100, "labelExpr": "datum.value==1?['Nasal','Passage']:datum.value==2?'Spleen':'Lung'", "labelOverlap": false, "title": null, "tickSize": 4, "tickColor": "#555", "labelFont": "Liberation Serif", "labelFontWeight": "bold", "labelFontSize": 14, "labelColor": "black", "labelBaseline": "middle", "labelPadding": {"condition": {"test": "datum.value==1", "value": 7}, "value": 15}, "labelLineHeight": 16}},
    "y": {"field": "v", "type": "quantitative", "scale": {"domain": [0, 110], "nice": false},
     "axis": {"values": [0,20,40,60,80,100], "tickCount": 100, "format": "d", "labelOverlap": false, "title": null, "tickSize": 4, "tickColor": "#555", "labelFont": "Liberation Sans", "labelFontWeight": "normal", "labelFontSize": 10, "labelColor": "#333", "labelPadding": 2}},
    "shape": {"field": "g", "type": "nominal", "scale": {"domain": [1, 2, 3], "range": ["circle", "square", "triangle-up"]}, "legend": null}}},
  {"data": {"name": "mn"}, "transform": [{"filter": "datum.m=='C'"}], "mark": {"type": "tick", "orient": "horizontal", "color": "black", "size": 42, "thickness": 1.5},
   "encoding": {"x": {"field": "g", "type": "quantitative"}, "y": {"field": "v", "type": "quantitative"}}},
  {"data": {"name": "br"}, "transform": [{"filter": "datum.m=='C'"}], "mark": {"type": "rule", "color": "#888", "strokeWidth": 1.5},
   "encoding": {"x": {"field": "x1", "type": "quantitative"}, "x2": {"field": "x2"}, "y": {"field": "top", "type": "quantitative"}}},
  {"data": {"name": "br"}, "transform": [{"filter": "datum.m=='C'"}], "mark": {"type": "rule", "color": "#888", "strokeWidth": 1.5},
   "encoding": {"x": {"field": "x1", "type": "quantitative"}, "y": {"field": "yl", "type": "quantitative"}, "y2": {"field": "top"}}},
  {"data": {"name": "br"}, "transform": [{"filter": "datum.m=='C'"}], "mark": {"type": "rule", "color": "#888", "strokeWidth": 1.5},
   "encoding": {"x": {"field": "x2", "type": "quantitative"}, "y": {"field": "yr", "type": "quantitative"}, "y2": {"field": "top"}}},
  {"data": {"name": "br"}, "transform": [{"filter": "datum.m=='C'"}], "mark": {"type": "text", "fill": "#777", "font": "DejaVu Serif", "fontSize": 11, "baseline": "middle"},
   "encoding": {"x": {"field": "lx", "type": "quantitative"}, "y": {"field": "ly", "type": "quantitative"}, "text": {"field": "lab"}}}
 ]},
{"width": 155, "height": 166, "view": {"stroke": "#666"},
 "title": {"text": "Ly49D", "dx": -7, "offset": 1},
 "layer": [
  {"data": {"name": "dt"}, "transform": [{"filter": "datum.m=='D'"}], "mark": {"type": "point", "filled": true, "color": "black", "size": 24, "opacity": 1},
   "encoding": {"x": {"field": "x", "type": "quantitative", "scale": {"domain": [0.494, 3.524], "nice": false, "zero": false},
     "axis": {"values": [1,2,3], "tickCount": 100, "labelExpr": "datum.value==1?['Nasal','Passage']:datum.value==2?'Spleen':'Lung'", "labelOverlap": false, "title": null, "tickSize": 4, "tickColor": "#555", "labelFont": "Liberation Serif", "labelFontWeight": "bold", "labelFontSize": 14, "labelColor": "black", "labelBaseline": "middle", "labelPadding": {"condition": {"test": "datum.value==1", "value": 7}, "value": 15}, "labelLineHeight": 16}},
    "y": {"field": "v", "type": "quantitative", "scale": {"domain": [0, 110], "nice": false},
     "axis": {"values": [0,20,40,60,80,100], "tickCount": 100, "format": "d", "labelOverlap": false, "title": null, "tickSize": 4, "tickColor": "#555", "labelFont": "Liberation Sans", "labelFontWeight": "normal", "labelFontSize": 10, "labelColor": "#333", "labelPadding": 2}},
    "shape": {"field": "g", "type": "nominal", "scale": {"domain": [1, 2, 3], "range": ["circle", "square", "triangle-up"]}, "legend": null}}},
  {"data": {"name": "mn"}, "transform": [{"filter": "datum.m=='D'"}], "mark": {"type": "tick", "orient": "horizontal", "color": "black", "size": 43, "thickness": 1.5},
   "encoding": {"x": {"field": "g", "type": "quantitative"}, "y": {"field": "v", "type": "quantitative"}}},
  {"data": {"name": "br"}, "transform": [{"filter": "datum.m=='D'"}], "mark": {"type": "rule", "color": "#888", "strokeWidth": 1.5},
   "encoding": {"x": {"field": "x1", "type": "quantitative"}, "x2": {"field": "x2"}, "y": {"field": "top", "type": "quantitative"}}},
  {"data": {"name": "br"}, "transform": [{"filter": "datum.m=='D'"}], "mark": {"type": "rule", "color": "#888", "strokeWidth": 1.5},
   "encoding": {"x": {"field": "x1", "type": "quantitative"}, "y": {"field": "yl", "type": "quantitative"}, "y2": {"field": "top"}}},
  {"data": {"name": "br"}, "transform": [{"filter": "datum.m=='D'"}], "mark": {"type": "rule", "color": "#888", "strokeWidth": 1.5},
   "encoding": {"x": {"field": "x2", "type": "quantitative"}, "y": {"field": "yr", "type": "quantitative"}, "y2": {"field": "top"}}},
  {"data": {"name": "br"}, "transform": [{"filter": "datum.m=='D'"}], "mark": {"type": "text", "fill": "#777", "font": "DejaVu Serif", "fontSize": 11, "baseline": "middle"},
   "encoding": {"x": {"field": "lx", "type": "quantitative"}, "y": {"field": "ly", "type": "quantitative"}, "text": {"field": "lab"}}}
 ]}
]
}
